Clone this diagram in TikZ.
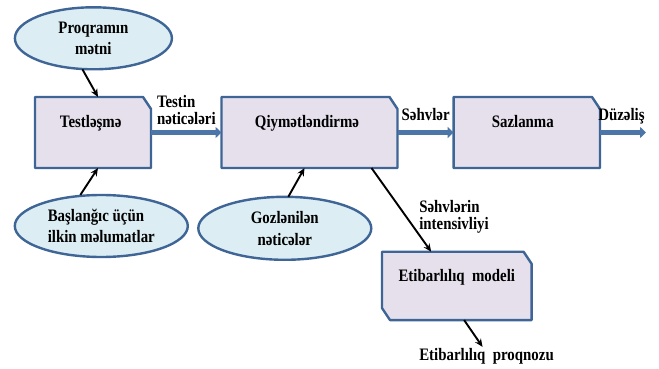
\documentclass[tikz,border=0pt]{standalone}
\usepackage{fontspec}
\setmainfont{Liberation Serif}[FakeStretch=0.85]
\usetikzlibrary{shapes.geometric,arrows.meta,calc}
\definecolor{boxfill}{HTML}{E6E0EC}
\definecolor{boxline}{HTML}{3E6595}
\definecolor{ellfill}{HTML}{DCEEF4}
\definecolor{flow}{HTML}{4C75A8}
\begin{document}
\begin{tikzpicture}[x=1pt,y=-1pt,
  every node/.style={font=\fontsize{17.5}{21.5}\selectfont\bfseries},
  procbox/.style={rectangle,draw=none,inner sep=0pt,outer sep=0pt,minimum height=71pt},
  outline/.style={draw=boxline,line width=2.4pt,fill=boxfill,line join=round},
  ellbox/.style={ellipse,draw=boxline,line width=2.4pt,fill=ellfill,inner sep=0pt,outer sep=0pt,
     minimum height=62pt,align=center},
  arr/.style={line width=1.9pt,-{Stealth[length=8pt,width=7pt]}},
  flowarr/.style={draw=flow,line width=4.6pt,-{Triangle[length=6pt,width=11pt]}},
  lbl/.style={inner sep=0pt,outer sep=0pt,align=left}
]
\useasboundingbox (0,0) rectangle (659,369);

% process boxes (drawn first as nodes, then outlined)
\node[procbox,minimum width=116pt,text height=30.3pt,text depth=40.7pt] (T) at (93,132.5) {};
\node[procbox,minimum width=176pt,text height=30.3pt,text depth=40.7pt] (Q) at (309.5,132.5) {};
\node[procbox,minimum width=146.4pt,text height=30.3pt,text depth=40.7pt] (S) at (526.8,132.5) {};
\node[procbox,minimum width=149.6pt,minimum height=68.3pt,text height=29.3pt,text depth=39pt] (E) at (456.8,285.9) {};

\foreach \n in {T,Q,S}{
  \draw[outline] (\n.north west) -- ([xshift=-8pt]\n.north east) -- ([yshift=-12pt]\n.north east)
     -- (\n.south east) -- (\n.south west) -- cycle;
}
\draw[outline] (E.north west) -- ([xshift=-8pt]E.north east) -- ([yshift=-12pt]E.north east)
     -- (E.south east) -- ([xshift=8pt]E.south west) -- ([yshift=12pt]E.south west) -- cycle;

\node[procbox,minimum width=116pt,text height=30.3pt,text depth=40.7pt] (Tt) at (90.7,132.5) {Testləşmə};
\node[procbox,minimum width=176pt,text height=30.3pt,text depth=40.7pt] (Qt) at (307,132.5) {Qiymətləndirmə};
\node[procbox,minimum width=146.4pt,text height=30.3pt,text depth=40.7pt] (St) at (522.8,132.5) {Sazlanma};
\node[procbox,minimum width=149.6pt,minimum height=68.3pt,text height=29.3pt,text depth=39pt] (Et) at (456.8,285.9) {Etibarlılıq\ \ modeli};

% ellipses
\node[ellbox,minimum width=157pt] (P) at (93.4,38.3) {Proqramın\\mətni};
\node[ellbox,minimum width=173pt,align=left] (B) at (101.3,226) {Başlanğıc üçün\\ilkin məlumatlar};
\node[ellbox,minimum width=173pt,minimum height=63pt] (G) at (284.8,228.3) {Gozlənilən\\nəticələr};

% labels
\node[lbl,anchor=north west,font=\fontsize{17.5}{16.5}\selectfont\bfseries] (L1) at (157,95.5) {Testin\\nəticələri};
\node[lbl,anchor=base west] (L2) at (401.7,121) {Səhvlər};
\node[lbl,anchor=base west] (L3) at (598.3,121) {Düzəliş};
\node[lbl,anchor=north west,font=\fontsize{17.5}{16.5}\selectfont\bfseries] (L4) at (419.3,200.5) {Səhvlərin\\intensivliyi};
\node[lbl,anchor=base west,inner sep=1pt] (Pr) at (418.3,360) {Etibarlılıq\ \ proqnozu};

\coordinate (out) at (646,132.5);

% flow arrows
\draw[flowarr] (T.east) -- (Q.west);
\draw[flowarr] (Q.east) -- (S.west);
\draw[flowarr] (S.east) -- (out);

% black arrows
\draw[arr] ([xshift=-11pt]P.south) -- ([xshift=5pt]T.north);
\draw[arr] ([xshift=-21pt]B.north) -- ([xshift=5pt]T.south);
\draw[arr] ([xshift=3.5pt]G.north) -- ([xshift=-5pt]Q.south);
\draw[arr] ([xshift=62pt]Q.south) -- ([xshift=-25.6pt]E.north);
\draw[arr] ([xshift=7.3pt]E.south) -- ([xshift=-4pt]Pr.north);
\end{tikzpicture}
\end{document}
